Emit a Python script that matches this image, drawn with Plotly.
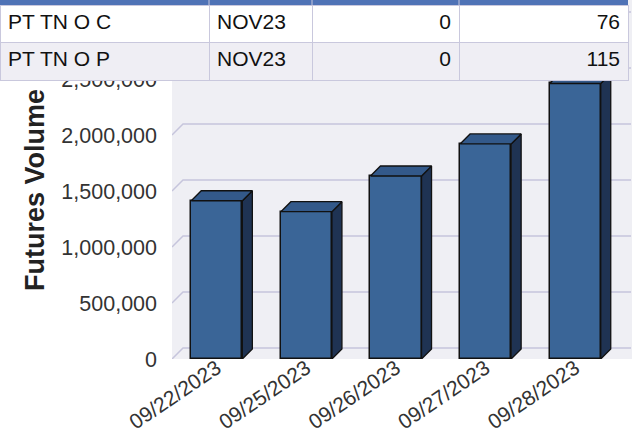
import plotly.graph_objects as go

# ---- data ----
dates = ["09/22/2023", "09/25/2023", "09/26/2023", "09/27/2023", "09/28/2023"]
volumes = [1413000, 1315000, 1634000, 1920000, 2460000]
y_tick_labels = [0, 500000, 1000000, 1500000, 2000000, 2500000]
grid_values = [0, 500000, 1000000, 1500000, 2000000, 2500000, 3000000]

table_product = ["PT TN O C", "PT TN O P"]
table_month = ["NOV23", "NOV23"]
table_col3 = [0, 0]
table_col4 = [76, 115]
table_col_widths = [209, 103, 147, 169]

# ---- geometry / style ----
W, H = 640, 435
PLOT_L, PLOT_R, PLOT_T, PLOT_B = 172, 632, 0, 359   # pixel box of the plot area
PX_PER_CAT = 89.6
PX_PER_UNIT = 112 / 1_000_000
plot_w = PLOT_R - PLOT_L
plot_h = PLOT_B - PLOT_T
x_range = [-0.5, -0.5 + plot_w / PX_PER_CAT]
y_range = [0, plot_h / PX_PER_UNIT]

WALL_DEPTH_PX = 11
BAR_DEPTH_PX = 10
wall_dx = WALL_DEPTH_PX / PX_PER_CAT
wall_dy = WALL_DEPTH_PX / PX_PER_UNIT
bar_dx = BAR_DEPTH_PX / PX_PER_CAT
bar_dy = BAR_DEPTH_PX / PX_PER_UNIT
BAR_W = 0.57

FRONT = "#3A6597"
SIDE = "#1F3353"
TOP = "#33598A"
EDGE = "#111111"
GRID = "#C6C5DC"
BG = "#EFEFF4"
HEAD = "#4F73B6"
TLINE = "#C9C8DD"
ROW_FILLS = ["#FFFFFF", "#EFEEF4"]
FONT = "Arial, Liberation Sans, sans-serif"

xs = list(range(len(dates)))
n = len(dates)

fig = go.Figure()

# front faces
fig.add_trace(go.Bar(
    x=xs, y=volumes, width=BAR_W,
    marker=dict(color=FRONT, line=dict(color=EDGE, width=1.5)),
    hoverinfo="skip", showlegend=False,
))

# side and top faces
for x, v in zip(xs, volumes):
    r = x + BAR_W / 2
    l = x - BAR_W / 2
    fig.add_trace(go.Scatter(
        x=[r, r + bar_dx, r + bar_dx, r, r],
        y=[0, bar_dy, v + bar_dy, v, 0],
        mode="lines", fill="toself", fillcolor=SIDE,
        line=dict(color=EDGE, width=1.3), hoverinfo="skip", showlegend=False,
    ))
    fig.add_trace(go.Scatter(
        x=[l, l + bar_dx, r + bar_dx, r, l],
        y=[v, v + bar_dy, v + bar_dy, v, v],
        mode="lines", fill="toself", fillcolor=TOP,
        line=dict(color=EDGE, width=1.3), hoverinfo="skip", showlegend=False,
    ))

# back-wall gridlines
shapes = []
left = -0.5
right = n - 0.5
for t in grid_values:
    shapes.append(dict(
        type="path", xref="x", yref="y", layer="below",
        path=f"M {left},{t} L {left + wall_dx},{t + wall_dy} L {right + wall_dx},{t + wall_dy}",
        line=dict(color=GRID, width=1.5),
    ))

# table: header band (cut off at the top of the view) + body rows
HEAD_PX = 5
ROW_PX = 37.5
TABLE_W = sum(table_col_widths)
shapes.append(dict(type="rect", xref="paper", yref="paper", layer="above",
                   x0=0, x1=TABLE_W / W, y0=1 - HEAD_PX / H, y1=1,
                   fillcolor=HEAD, line=dict(width=0)))
acc = 0
for cw in table_col_widths[:-1]:
    acc += cw
    shapes.append(dict(type="line", xref="paper", yref="paper", layer="above",
                       x0=acc / W, x1=acc / W, y0=1 - HEAD_PX / H, y1=1,
                       line=dict(color=TLINE, width=1)))

columns = [table_product, table_month, table_col3, table_col4]
aligns = ["left", "left", "right", "right"]
tfont = dict(family=FONT, size=21, color="#111111")
# the visible body: first visible row is rendered in the table's top block,
# the remaining rows in the cell block
fig.add_trace(go.Table(
    domain=dict(x=[0, TABLE_W / W], y=[1 - 95 / H, 1 - HEAD_PX / H]),
    columnwidth=table_col_widths,
    header=dict(values=[[c[0]] for c in columns], align=aligns, height=ROW_PX,
                fill_color=ROW_FILLS[0], line=dict(color=TLINE, width=1), font=tfont),
    cells=dict(values=[c[1:] for c in columns], align=aligns, height=ROW_PX,
               fill_color=ROW_FILLS[1], line=dict(color=TLINE, width=1), font=tfont),
))

fig.add_annotation(
    text="<b>Futures Volume</b>", textangle=-90,
    xref="paper", yref="paper",
    x=35 / W, y=(H - 190) / H,
    xanchor="center", yanchor="middle", showarrow=False,
    font=dict(family=FONT, size=27, color="#222222"),
)

fig.update_layout(
    width=W, height=H,
    margin=dict(l=0, r=0, t=0, b=0, autoexpand=False),
    paper_bgcolor="white", plot_bgcolor=BG,
    shapes=shapes, showlegend=False, bargap=0,
    font=dict(family=FONT, color="#333333"),
)
fig.update_xaxes(domain=[PLOT_L / W, PLOT_R / W], automargin=False,
                 range=x_range, tickvals=xs, ticktext=dates, tickangle=-34,
                 showgrid=False, zeroline=False, showline=False, ticks="",
                 ticklabelstandoff=-8,
                 tickfont=dict(size=21, color="#333333"))
fig.update_yaxes(domain=[(H - PLOT_B) / H, (H - PLOT_T) / H], automargin=False,
                 range=y_range, tickvals=y_tick_labels, tickformat=",",
                 showgrid=False, zeroline=False, showline=False, ticks="",
                 ticklabelstandoff=14,
                 tickfont=dict(size=21.5, color="#333333"))

fig.write_html("out.html", config={"displayModeBar": False},
               post_script="document.body.style.margin='0';document.body.style.padding='0';")
